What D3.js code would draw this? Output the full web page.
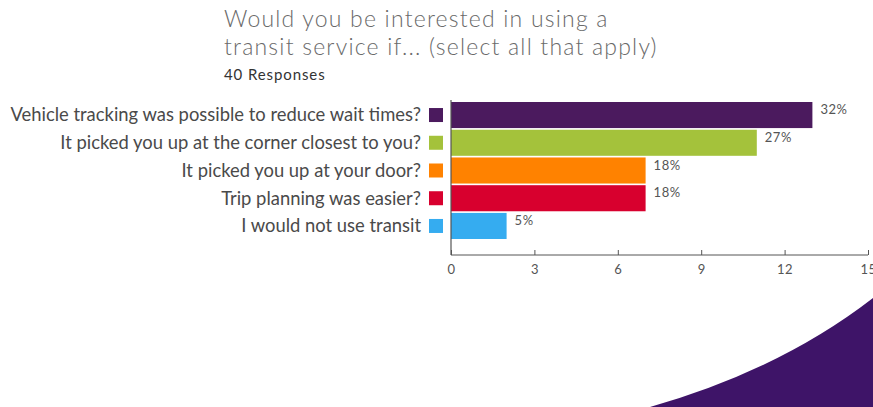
<!DOCTYPE html>
<html>
<head>
<meta charset="utf-8" />
<title>Transit survey</title>
<style>
  body { margin: 0; background: #fff; }
  text { font-family: Lato, "Open Sans", sans-serif; }
</style>
</head>
<body>
<svg id="chart" width="873" height="407"></svg>
<script src="https://cdn.jsdelivr.net/npm/d3@7"></script>
<script>
var categories = [
  "Vehicle tracking was possible to reduce wait times?",
  "It picked you up at the corner closest to you?",
  "It picked you up at your door?",
  "Trip planning was easier?",
  "I would not use transit"
];
var counts = [13, 11, 7, 7, 2];
var percentLabels = ["32%", "27%", "18%", "18%", "5%"];
var barColors = ["#4b1a5e", "#a4c23b", "#ff8200", "#d8002e", "#35acf0"];
var xTicks = [0, 3, 6, 9, 12, 15];

var svg = d3.select("#chart");

// purple swoosh, bottom right
svg.append("path")
  .attr("d", "M650,407 Q780,370 873,298 L873,407 Z")
  .attr("fill", "#3e1468");

// title
svg.append("text").attr("x", 224).attr("y", 27)
  .attr("font-size", 23).attr("font-weight", 300).attr("fill", "#6a6a6a")
  .attr("letter-spacing", 1.2)
  .text("Would you be interested in using a");
svg.append("text").attr("x", 224).attr("y", 55)
  .attr("font-size", 23).attr("font-weight", 300).attr("fill", "#6a6a6a")
  .attr("letter-spacing", 1.2)
  .text("transit service if... (select all that apply)");
svg.append("text").attr("x", 224).attr("y", 80)
  .attr("font-size", 15).attr("fill", "#333")
  .attr("letter-spacing", 0.9)
  .text("40 Responses");

var x = d3.scaleLinear().domain([0, 15]).range([451, 868]);
var y = d3.scaleBand().domain(categories).range([102, 239]).paddingInner(0.06);

var rows = categories.map(function(c, i) {
  return {name: c, value: counts[i], pct: percentLabels[i], color: barColors[i]};
});

svg.selectAll("rect.bar").data(rows).enter().append("rect")
  .attr("class", "bar")
  .attr("x", x(0))
  .attr("y", function(d) { return y(d.name); })
  .attr("width", function(d) { return x(d.value) - x(0); })
  .attr("height", y.bandwidth())
  .attr("fill", function(d) { return d.color; });

svg.selectAll("rect.key").data(rows).enter().append("rect")
  .attr("class", "key")
  .attr("x", 429)
  .attr("y", function(d) { return y(d.name) + y.bandwidth() / 2 - 7; })
  .attr("width", 14).attr("height", 14)
  .attr("fill", function(d) { return d.color; });

svg.selectAll("text.cat").data(rows).enter().append("text")
  .attr("class", "cat")
  .attr("x", 421)
  .attr("y", function(d) { return y(d.name) + y.bandwidth() / 2; })
  .attr("dy", "0.35em")
  .attr("text-anchor", "end")
  .attr("font-size", 18.4)
  .attr("fill", "#4a4a4a")
  .text(function(d) { return d.name; });

svg.selectAll("text.val").data(rows).enter().append("text")
  .attr("class", "val")
  .attr("x", function(d) { return x(d.value) + 8; })
  .attr("y", function(d) { return y(d.name) + y.bandwidth() / 2 - 1; })
  .attr("font-size", 13)
  .attr("letter-spacing", 0.5)
  .attr("fill", "#555")
  .text(function(d) { return d.pct; });

// axes
svg.append("line")
  .attr("x1", x(0)).attr("x2", x(0))
  .attr("y1", 100).attr("y2", 255)
  .attr("stroke", "#555").attr("stroke-width", 1.2);

var xAxis = svg.append("g")
  .attr("transform", "translate(0,255)")
  .call(d3.axisBottom(x).tickValues(xTicks).tickSize(-5).tickPadding(10));
xAxis.select(".domain").attr("stroke", "#555").attr("d", "M" + x(0) + ",0H" + x(15));
xAxis.selectAll(".tick line").attr("stroke", "#555");
xAxis.selectAll(".tick text")
  .attr("font-family", "Lato, sans-serif")
  .attr("font-size", 13).attr("letter-spacing", 0.5).attr("fill", "#555");
</script>
</body>
</html>
